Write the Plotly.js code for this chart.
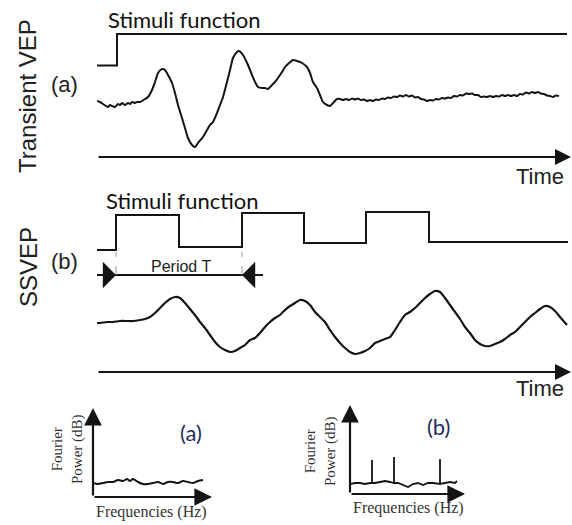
<!DOCTYPE html>
<html>
<head>
<meta charset="utf-8">
<script src="https://cdn.plot.ly/plotly-3.0.1.min.js"></script>
<style>html,body{margin:0;padding:0;background:#fff;}#chart{width:572px;height:525px;}</style>
</head>
<body>
<div id="chart"></div>
<script>
// ---------- DATA ----------
// (a) Transient VEP: stimulus step and evoked response (time in ms-like units, amplitude in arbitrary units)
const stimATime = [0, 20, 470];
const stimALevel = [91.5, 123, 123];
const vepTime = [0,3,6,9,11,13,15,18,21,23,25,28,31,33,35,38,40,43,45,48,51,55,58,61,65,68,71,75,78,81,85,88,91,95,98,101,106,110,113,116,120,123,126,130,133,136,140,142,146,151,155,158,161,165,168,171,175,178,181,185,188,191,196,200,205,210,213,216,220,223,226,230,233,236,240,
243,246,249,252,255,258,261,264,267,270,273,276,279,282,285,288,291,294,297,300,303,306,309,312,315,318,321,324,327,330,333,336,339,342,345,348,351,354,357,360,363,366,369,372,375,378,381,384,387,390,393,396,399,402,405,408,411,414,417,420,423,426,429,432,435,438,441,444,447,450,453,456,459,462];
const vepAmp = [56,55,53,51,50,52,51,50,53,52,54,52,54,53,55,54,55,55,56,58,60,67,75,84,88,87,82,74,64,52,39,29,19,12,10,14,20,27,32,35,44,52,60,75,87,99,105,106,102,92,82,75,70,69,69,68,72,75,79,85,90,93,97,96,94,90,84,75,69,62,55,52,51,54,58,
58,57,58,57,58.5,57.5,58.5,57,57.5,56,57,56,57.5,57,58.5,58,59.5,59,60.5,60,61.5,60.5,62,60.5,61.5,59.5,60,58,57.5,56,57,56.5,58,57.5,59,58.5,59.5,59,61,60.5,62,61.5,63.5,63,63.5,62,62,60,60.5,60,61,60,61,60.5,62,61,62,61,62,61,63,62.5,64.5,63.5,65,64,65,63.5,63,61.5,61,60,61.5,61];

// (b) SSVEP: square-wave stimulus and steady-state response
const stimBTime = [0, 19, 82, 145, 207, 269, 332, 471];
const stimBLevel = [122, 157, 125, 159, 129, 160, 130, 130];
const ssvepTime = [0,3,10,16,23,30,36,43,48,53,58,63,68,73,78,83,88,93,98,103,108,113,118,123,128,133,138,143,148,153,158,163,168,173,178,183,188,193,198,203,208,213,218,223,228,233,238,243,248,253,258,263,268,273,278,283,288,293,298,303,308,313,318,323,328,333,338,343,348,353,358,363,368,373,378,383,388,393,398,403,408,413,418,423,428,433,438,443,448,453,458,463,470];
const ssvepAmp = [49,49,50,50,51,51,51,52,53,55,59,64,69,73,75,74,69,63,57,50,44,37,30,25,22,20,21,24,27,32,34,39,45,50,54,57,62,66,69,72,71,67,60,55,50,42,35,29,24,20,18,19,21,24,29,31,33,35,42,50,57,60,64,69,74,78,81,80,74,67,60,53,45,39,32,28,26,26,28,30,33,37,40,45,50,55,59,63,66,65,61,55,47];
const periodLevel = 97;        // height of the "Period T" arrow
const periodLineEnd = 166;     // right end of the "Period T" arrow line

// Fourier power spectra
const specAFreq = [0,5,10,15,20,25,30,34,37,40,45,50,55,60,65,70,75,80,85,90,95,100,105,110];
const specAPow  = [14,13,14,15,15,17,16,18,16,18,15,13,13,14,15,13,15,15,14,16,15,14,16,17];
const specBFreq = [0,5,10,15,20,22,22,22,25,30,35,40,44,44,44,48,53,58,63,68,73,78,83,90,90,90,95,100,105,107];
const specBPow  = [10,11,11,10,11,11,34,11,11,12,13,12,11,37,11,11,9,7,10,11,9,11,11,10,35,10,11,12,11,13];

// axis extents for the arrows (same units as the data)
const timeAxisEnd = 474;
const specAAxis = {fEnd: 119, pEnd: 89};
const specBAxis = {fEnd: 115, pEnd: 89};

// ---------- LAYOUT HELPERS ----------
const W = 572, H = 525;
const X = p => p / W;
const Y = p => 1 - p / H;
const INK = '#141414';

const lineStyle = w => ({color: INK, width: w});
const traces = [
  {x: stimATime, y: stimALevel, xaxis: 'x', yaxis: 'y', mode: 'lines', line: Object.assign({shape: 'hv'}, lineStyle(2)), cliponaxis: false},
  {x: vepTime, y: vepAmp, xaxis: 'x', yaxis: 'y', mode: 'lines', line: Object.assign({shape: 'spline', smoothing: 0.6}, lineStyle(2)), cliponaxis: false},
  {x: stimBTime, y: stimBLevel, xaxis: 'x2', yaxis: 'y2', mode: 'lines', line: Object.assign({shape: 'hv'}, lineStyle(2)), cliponaxis: false},
  {x: ssvepTime, y: ssvepAmp, xaxis: 'x2', yaxis: 'y2', mode: 'lines', line: Object.assign({shape: 'spline', smoothing: 0.6}, lineStyle(2.2)), cliponaxis: false},
  {x: [stimBTime[0], periodLineEnd], y: [periodLevel, periodLevel], xaxis: 'x2', yaxis: 'y2', mode: 'lines', line: lineStyle(2), cliponaxis: false},
  {x: specAFreq, y: specAPow, xaxis: 'x3', yaxis: 'y3', mode: 'lines', line: Object.assign({shape: 'spline', smoothing: 0.8}, lineStyle(2)), cliponaxis: false},
  {x: specBFreq, y: specBPow, xaxis: 'x4', yaxis: 'y4', mode: 'lines', line: lineStyle(1.8), cliponaxis: false}
];

const hidden = (domain, range, anchor) => ({domain, range, anchor, visible: false, showgrid: false, zeroline: false, fixedrange: true});

function arrow(xr, yr, x, y, ax, ay, head, size, width) {
  return {xref: xr, yref: yr, axref: xr, ayref: yr, x, y, ax, ay, text: '', showarrow: true,
          arrowhead: head, arrowsize: size, arrowwidth: width, arrowcolor: INK, standoff: 0, startstandoff: 0};
}
function label(text, pxX, pxY, font, extra) {
  return Object.assign({xref: 'paper', yref: 'paper', x: X(pxX), y: Y(pxY), xanchor: 'center', yanchor: 'middle',
          text, showarrow: false, font}, extra || {});
}
const sans = (s, c) => ({family: '"Liberation Sans", Arial, sans-serif', size: s, color: c || '#222'});
const calib = (s, c) => ({family: 'Lato, "Open Sans", sans-serif', size: s, color: c || '#111'});
const serif = (s) => ({family: '"Liberation Serif", "Times New Roman", serif', size: s, color: '#333'});

const annotations = [
  // time axes
  arrow('x', 'y', timeAxisEnd, 0, 0, 0, 2, 1.6, 2),
  arrow('x2', 'y2', timeAxisEnd, 0, 0, 0, 2, 1.6, 2),
  // period T arrowheads
  arrow('x2', 'y2', stimBTime[1], periodLevel, stimBTime[0], periodLevel, 1, 2.2, 2),
  arrow('x2', 'y2', stimBTime[3], periodLevel, periodLineEnd, periodLevel, 1, 2.2, 2),
  // spectrum axes
  arrow('x3', 'y3', specAAxis.fEnd, 0, 0, 0, 2, 1.6, 2.2),
  arrow('x3', 'y3', 0, specAAxis.pEnd, 0, 0, 2, 1.6, 2.2),
  arrow('x4', 'y4', specBAxis.fEnd, 0, 0, 0, 2, 1.6, 2.2),
  arrow('x4', 'y4', 0, specBAxis.pEnd, 0, 0, 2, 1.6, 2.2),
  // texts
  label('Transient VEP', 28, 96, sans(24), {textangle: -90}),
  label('SSVEP', 28, 267, sans(24), {textangle: -90}),
  label('(a)', 64, 85, sans(22)),
  label('(b)', 64, 261, sans(22)),
  label('Stimuli function', 184, 20, calib(22)),
  label('Stimuli function', 182, 201, calib(22)),
  label('Time', 540, 176, sans(22)),
  label('Time', 540, 388, sans(22)),
  label('Period T', 181, 266, sans(16)),
  label('(a)', 191, 432, calib(22, '#1f2d5c')),
  label('(b)', 438, 426, calib(22, '#1f2d5c')),
  label('Frequencies (Hz)', 151, 512, serif(16)),
  label('Frequencies (Hz)', 408, 508, serif(16)),
  label('Fourier<br>Power (dB)', 67, 449, serif(15), {textangle: -90}),
  label('Fourier<br>Power (dB)', 320, 451, serif(15), {textangle: -90})
];

const shapes = [stimBTime[1], stimBTime[3]].map(t => ({
  type: 'line', xref: 'x2', yref: 'y2', x0: t, x1: t, y0: periodLevel, y1: stimBLevel[0] - 2,
  line: {color: '#999', width: 1, dash: 'dash'}
}));

const layout = {
  width: W, height: H,
  margin: {l: 0, r: 0, t: 0, b: 0},
  paper_bgcolor: '#fff', plot_bgcolor: 'rgba(0,0,0,0)',
  showlegend: false,
  xaxis: hidden([X(97), 1], [0, 475], 'y'),
  yaxis: hidden([Y(165), Y(20)], [-8, 137], 'x'),
  xaxis2: hidden([X(97), 1], [0, 475], 'y2'),
  yaxis2: hidden([Y(380), Y(185)], [-8, 187], 'x2'),
  xaxis3: hidden([X(93), X(215)], [0, 122], 'y3'),
  yaxis3: hidden([Y(500), Y(400)], [-3, 97], 'x3'),
  xaxis4: hidden([X(350), X(470)], [0, 120], 'y4'),
  yaxis4: hidden([Y(500), Y(400)], [-6, 94], 'x4'),
  annotations, shapes
};

Plotly.newPlot('chart', traces, layout, {staticPlot: true, displayModeBar: false});
</script>
</body>
</html>
